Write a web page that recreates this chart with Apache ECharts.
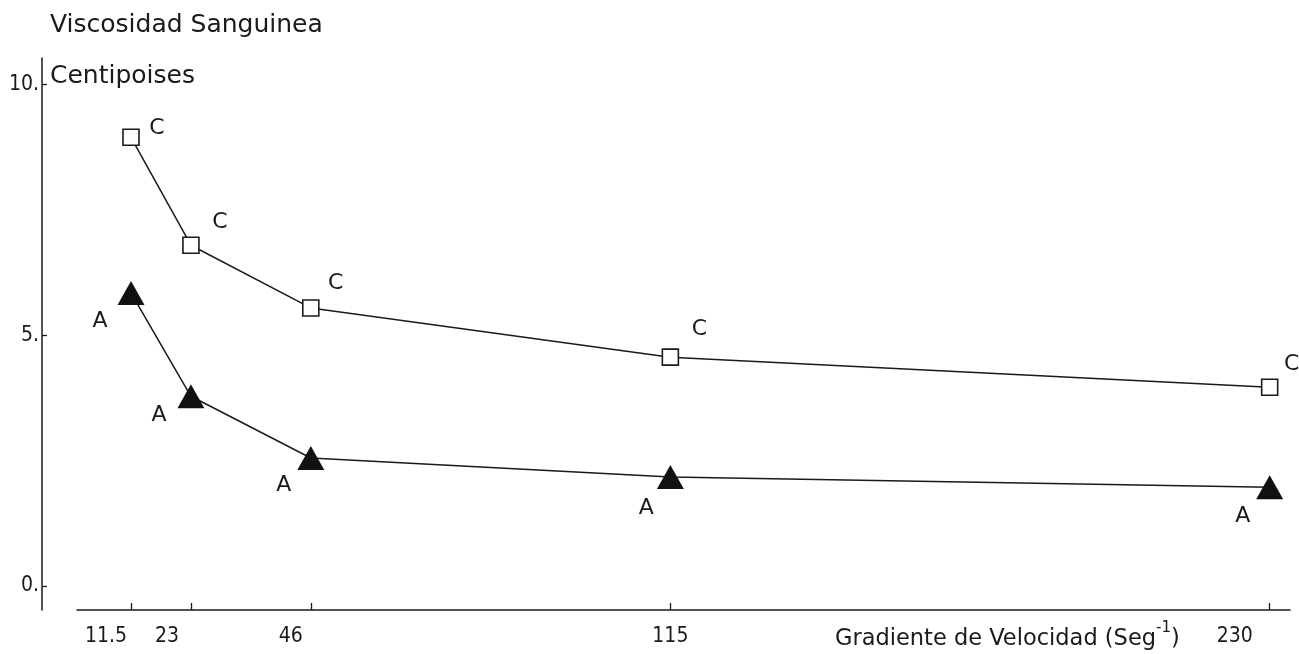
<!DOCTYPE html>
<html>
<head>
<meta charset="utf-8">
<script src="https://cdn.jsdelivr.net/npm/echarts@6/dist/echarts.min.js"></script>
<style>
html,body{margin:0;padding:0;background:#fff;}
#chart{width:1299px;height:654px;}
</style>
</head>
<body>
<div id="chart"></div>
<script>
// Data
const gradients = [11.5, 23, 46, 115, 230];            // Seg^-1
const viscosityC = [8.94, 6.79, 5.54, 4.56, 3.96];     // curve C (squares)
const viscosityA = [5.84, 3.78, 2.55, 2.17, 1.97];     // curve A (triangles)
const xTickLabels = ['11.5', '23', '46', '115', '230'];
const yTicks = [0, 5, 10];
const yTickLabels = ['0.', '5.', '10.'];

const FONT = 'DejaVu Sans';
const NUMFONT = '"DejaVu Sans Condensed", "Liberation Sans Narrow", "DejaVu Sans"';
const INK = '#1a1a1a';

// per-label horizontal shift styles (label placement, not data)
const xShift = [25, 24, 20, 0, 35];
const rich = {};
xShift.forEach((s, i) => {
  rich['l' + i] = { fontFamily: NUMFONT, fontSize: 21, color: INK, padding: [0, 2 * s, 0, 0] };
});

const cOffsets = [[26, -9], [29, -23], [25, -25], [29, -28], [22, -23]];
const aOffsets = [[-31, 28], [-32, 19], [-27, 27], [-24, 31], [-27, 29]];

const chart = echarts.init(document.getElementById('chart'), null, { renderer: 'canvas' });

chart.setOption({
  backgroundColor: '#fff',
  animation: false,
  grid: { left: 77, right: 9, top: 58, bottom: 44 },
  xAxis: {
    type: 'value',
    min: 1.14, max: 233.9,
    axisLine: { show: true, onZero: false, lineStyle: { color: INK, width: 1.5 } },
    splitLine: { show: false },
    axisTick: { show: true, inside: true, length: 7, customValues: gradients, lineStyle: { color: INK, width: 1.3 } },
    axisLabel: {
      customValues: gradients,
      margin: 16,
      formatter: function (v) {
        const i = gradients.indexOf(v);
        return '{l' + i + '|' + xTickLabels[i] + '}';
      },
      rich: rich
    }
  },
  yAxis: {
    type: 'value',
    min: -0.478, max: 10.52,
    offset: 35,
    axisLine: { show: true, onZero: false, lineStyle: { color: INK, width: 1.5 } },
    splitLine: { show: false },
    axisTick: { show: true, inside: true, length: 5, customValues: yTicks, lineStyle: { color: INK, width: 1.3 } },
    axisLabel: {
      customValues: yTicks,
      margin: 3,
      fontFamily: NUMFONT, fontSize: 21, color: INK,
      formatter: function (v) { return yTickLabels[yTicks.indexOf(v)]; }
    }
  },
  graphic: [
    { type: 'text', left: 50, top: 13, style: { text: 'Viscosidad Sanguinea', font: '25px "DejaVu Sans"', fill: INK } },
    { type: 'text', left: 50, top: 64, style: { text: 'Centipoises', font: '25px "DejaVu Sans"', fill: INK } },
    { type: 'text', left: 835, top: 621, style: {
        text: '{t|Gradiente de Velocidad (Seg}{s|-1}{t|)}',
        rich: {
          t: { fontFamily: FONT, fontSize: 22.5, fill: INK, color: INK, verticalAlign: 'bottom', lineHeight: 30 },
          s: { fontFamily: FONT, fontSize: 15, fill: INK, color: INK, verticalAlign: 'top', lineHeight: 30, padding: [0, 0, 10, 0] }
        }
    } }
  ],
  series: [
    {
      name: 'C', type: 'line',
      data: gradients.map((x, i) => ({
        value: [x, viscosityC[i]],
        label: { offset: cOffsets[i] }
      })),
      symbol: 'rect', symbolSize: 16,
      itemStyle: { color: '#fff', borderColor: INK, borderWidth: 1.6 },
      lineStyle: { color: INK, width: 1.5 },
      label: { show: true, position: 'inside', formatter: 'C', fontFamily: FONT, fontSize: 22, color: INK },
      z: 3
    },
    {
      name: 'A', type: 'line',
      data: gradients.map((x, i) => ({
        value: [x, viscosityA[i]],
        label: { offset: aOffsets[i] }
      })),
      symbol: 'triangle', symbolSize: [27, 24],
      itemStyle: { color: '#111', borderColor: '#111', borderWidth: 0 },
      lineStyle: { color: INK, width: 1.5 },
      label: { show: true, position: 'inside', formatter: 'A', fontFamily: FONT, fontSize: 22, color: INK },
      z: 3
    }
  ]
});
</script>
</body>
</html>
